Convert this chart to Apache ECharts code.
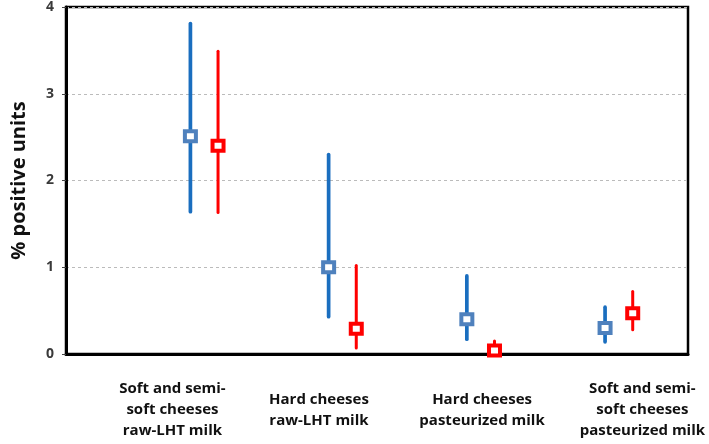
<!DOCTYPE html>
<html>
<head>
<meta charset="utf-8">
<script src="https://cdn.jsdelivr.net/npm/echarts@6/dist/echarts.min.js"></script>
<style>html,body{margin:0;padding:0;background:#fff;}#c{width:709px;height:444px;}</style>
</head>
<body>
<div id="c"></div>
<script>
// ---- data ----
const categories = [
  'Soft and semi-\nsoft cheeses\nraw-LHT milk',
  'Hard cheeses\nraw-LHT milk',
  'Hard cheeses\npasteurized milk',
  'Soft and semi-\nsoft cheeses\npasteurized milk'
];
const blueMid  = [2.51, 1.00, 0.40, 0.30];
const blueLow  = [1.64, 0.43, 0.17, 0.14];
const blueHigh = [3.81, 2.30, 0.90, 0.54];
const redMid   = [2.40, 0.29, 0.04, 0.47];
const redLow   = [1.63, 0.07, 0.00, 0.28];
const redHigh  = [3.49, 1.02, 0.15, 0.72];
const yTicks   = [0, 1, 2, 3, 4];

// ---- layout (label anchor positions along the x value axis) ----
const labelPos = [0.77, 1.83, 3.01, 4.17];
const FONT = '"Open Sans", "Liberation Sans", sans-serif';

function makeData(mid, low, high) {
  return mid.map((m, i) => [i + 1, low[i], high[i], m]);
}

function makeRender(lineColor, markColor, dx, lw) {
  return function (params, api) {
    const x = api.value(0) + dx;
    const lo = api.coord([x, api.value(1)]);
    const hi = api.coord([x, api.value(2)]);
    const md = api.coord([x, api.value(3)]);
    const w = 11, h = 10;
    return {
      type: 'group',
      children: [
        { type: 'line', shape: { x1: lo[0], y1: lo[1], x2: hi[0], y2: hi[1] },
          style: { stroke: lineColor, lineWidth: lw, lineCap: 'round' } },
        { type: 'rect', shape: { x: md[0] - w / 2, y: md[1] - h / 2, width: w, height: h },
          style: { fill: '#fff', stroke: markColor, lineWidth: 4 } }
      ]
    };
  };
}

const chart = echarts.init(document.getElementById('c'), null, { renderer: 'canvas' });
chart.setOption({
  animation: false,
  backgroundColor: '#fff',
  grid: { left: 66, right: 21, top: 5, bottom: 90, show: true, borderColor: '#000', borderWidth: 2.5, backgroundColor: 'transparent' },
  xAxis: {
    type: 'value', min: 0, max: 4.5,
    axisLine: { show: true, onZero: false, lineStyle: { color: '#000', width: 3 } },
    axisTick: { show: false },
    splitLine: { show: false },
    axisLabel: {
      customValues: labelPos,
      formatter: function (v) {
        let best = 0;
        labelPos.forEach((p, i) => { if (Math.abs(p - v) < Math.abs(labelPos[best] - v)) best = i; });
        return categories[best];
      },
      fontFamily: FONT, fontWeight: 'bold', fontSize: 15, lineHeight: 21,
      color: '#111', margin: 56, verticalAlign: 'middle', align: 'center'
    }
  },
  yAxis: {
    type: 'value', min: 0, max: 4, interval: 1,
    name: '% positive units', nameLocation: 'middle', nameGap: 37,
    nameTextStyle: { fontFamily: FONT, fontWeight: 'bold', fontSize: 20, color: '#111' },
    axisLine: { show: true, lineStyle: { color: '#000', width: 3 } },
    axisTick: { show: true, length: 4, lineStyle: { color: '#444', width: 1 } },
    axisLabel: {
      customValues: yTicks,
      fontFamily: FONT, fontWeight: 'bold', fontSize: 14, color: '#3a3a3a', margin: 12
    },
    splitLine: { show: true, lineStyle: { color: '#bbb', type: [3, 3], width: 1 } }
  },
  series: [
    { type: 'custom', name: 'blue', clip: false, z: 5,
      renderItem: makeRender('#1a6ebf', '#4f81bd', -0.1, 3.7),
      encode: { x: 0, y: [1, 2, 3] },
      data: makeData(blueMid, blueLow, blueHigh) },
    { type: 'custom', name: 'red', clip: false, z: 6,
      renderItem: makeRender('#ff0000', '#ff0000', 0.1, 3),
      encode: { x: 0, y: [1, 2, 3] },
      data: makeData(redMid, redLow, redHigh) }
  ]
});
</script>
</body>
</html>
